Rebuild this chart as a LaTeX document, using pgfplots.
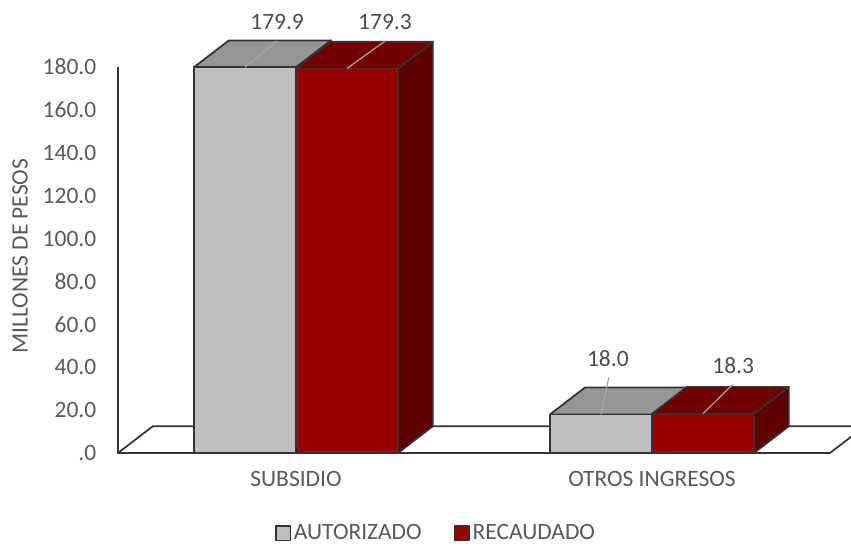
\documentclass[border=0pt]{standalone}
\usepackage{fontspec}
\setmainfont{Carlito}
\usepackage{pgfplots}
\pgfplotsset{compat=1.18}
\definecolor{gfront}{HTML}{BFBFBF}
\definecolor{gtop}{HTML}{969696}
\definecolor{gside}{HTML}{7F7F7F}
\definecolor{rfront}{HTML}{990000}
\definecolor{rtop}{HTML}{720000}
\definecolor{rside}{HTML}{5E0000}
\definecolor{edge}{HTML}{333333}
\definecolor{txt}{HTML}{595959}
\definecolor{lead}{HTML}{A6A6A6}
\newcommand{\lfont}{\fontsize{17.6}{21}\selectfont}
\begin{document}
\begin{tikzpicture}
\begin{axis}[
  name=ax,
  scale only axis,
  width=534pt, height=289.5pt,
  xmin=-0.5, xmax=1.5, ymin=0, ymax=180,
  clip=false,
  axis lines*=left,
  axis line style={edge, line width=1.3pt},
  major tick length=0pt,
  xtick={0,1}, xticklabels={SUBSIDIO, OTROS INGRESOS},
  ytick={0,20,...,180},
  yticklabels={.0,20.0,40.0,60.0,80.0,100.0,120.0,140.0,160.0,180.0},
  xticklabel style={font=\lfont, text=txt, yshift=-10pt},
  yticklabel style={font=\lfont, text=txt, xshift=-12.8pt},
  ylabel={MILLONES DE PESOS},
  every axis y label/.style={at={(axis description cs:-0.1376,0.51)}, rotate=90, anchor=center, font=\lfont, text=txt},
  legend columns=2,
  legend style={draw=none, fill=none, at={(axis description cs:0.447,-0.208)}, anchor=center, font=\lfont, text=txt,
    inner sep=1pt,
    /tikz/every even column/.append style={column sep=22pt}},
  legend image code/.code={\draw[#1, line width=1.3pt, draw=edge] (0pt,-5.5pt) rectangle (11pt,5.5pt);},
  every axis plot/.append style={line join=round},
]
% floor
\addplot[forget plot, fill=white, draw=edge, line width=1.3pt] coordinates {(-0.5,0) (-0.402,12.5) (1.598,12.5) (1.5,0)} -- cycle;
% gray SUBSIDIO side/top
\addplot[forget plot, fill=gside, draw=edge, line width=1.3pt] coordinates {(0,0) (0,179.9) (0.098,192.4) (0.098,12.5)} -- cycle;
\addplot[forget plot, fill=gtop, draw=edge, line width=1.3pt] coordinates {(-0.2865,179.9) (-0.1885,192.4) (0.098,192.4) (0,179.9)} -- cycle;
% gray OTROS side/top
\addplot[forget plot, fill=gside, draw=edge, line width=1.3pt] coordinates {(1,0) (1,18.0) (1.098,30.5) (1.098,12.5)} -- cycle;
\addplot[forget plot, fill=gtop, draw=edge, line width=1.3pt] coordinates {(0.7135,18.0) (0.8115,30.5) (1.098,30.5) (1,18.0)} -- cycle;
% gray fronts
\addplot[ybar, bar width=0.2865, bar shift=0pt, fill=gfront, draw=edge, line width=1.3pt] coordinates {(-0.14325,179.9) (0.85675,18.0)};
\addlegendentry{AUTORIZADO}
% red SUBSIDIO side/top
\addplot[forget plot, fill=rside, draw=edge, line width=1.3pt] coordinates {(0.2865,0) (0.2865,179.3) (0.3845,191.8) (0.3845,12.5)} -- cycle;
\addplot[forget plot, fill=rtop, draw=edge, line width=1.3pt] coordinates {(0,179.3) (0.098,191.8) (0.3845,191.8) (0.2865,179.3)} -- cycle;
% red OTROS side/top
\addplot[forget plot, fill=rside, draw=edge, line width=1.3pt] coordinates {(1.2865,0) (1.2865,18.3) (1.3845,30.8) (1.3845,12.5)} -- cycle;
\addplot[forget plot, fill=rtop, draw=edge, line width=1.3pt] coordinates {(1,18.3) (1.098,30.8) (1.3845,30.8) (1.2865,18.3)} -- cycle;
% red fronts
\addplot[ybar, bar width=0.2865, bar shift=0pt, fill=rfront, draw=edge, line width=1.3pt] coordinates {(0.14325,179.3) (1.14325,18.3)};
\addlegendentry{RECAUDADO}
% leader lines
\addplot[forget plot, draw=lead, line width=0.9pt] coordinates {(-0.14325,179.9) (-0.053,192.1)};
\addplot[forget plot, draw=lead, line width=0.9pt] coordinates {(0.14325,179.3) (0.25,192.1)};
\addplot[forget plot, draw=lead, line width=0.9pt] coordinates {(0.85675,18.0) (0.879,35.4)};
\addplot[forget plot, draw=lead, line width=0.9pt] coordinates {(1.14325,18.3) (1.228,32.2)};
% data labels
\addplot[forget plot, draw=none, mark=none, nodes near coords, point meta=explicit symbolic,
  every node near coord/.append style={anchor=base, inner sep=0pt, font=\lfont, text=txt!85!black}]
  coordinates {(-0.053,197.3) [179.9] (0.25,197.3) [179.3] (0.876,40.1) [18.0] (1.228,37.3) [18.3]};
\end{axis}
\pgfresetboundingbox
\path[use as bounding box] ([shift={(-88.5pt,-71.25pt)}]ax.south west) rectangle ([shift={(15.75pt,50.25pt)}]ax.north east);
\end{tikzpicture}
\end{document}
